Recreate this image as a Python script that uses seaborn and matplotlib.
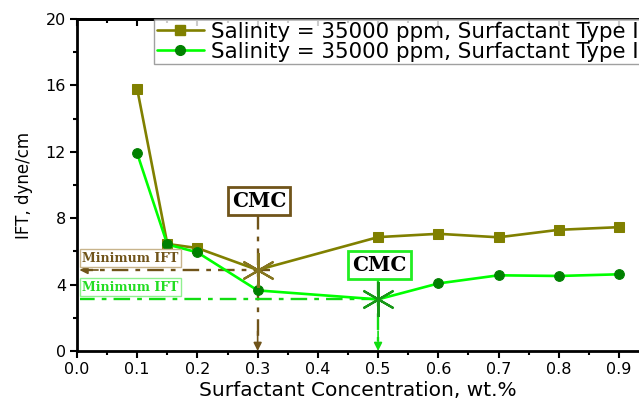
import numpy as np
import pandas as pd
import matplotlib
matplotlib.use("Agg")
import matplotlib.pyplot as plt
import seaborn as sns
from matplotlib.lines import Line2D
from matplotlib.ticker import MultipleLocator

# ---------------- data ----------------
conc = [0.1, 0.15, 0.2, 0.3, 0.5, 0.6, 0.7, 0.8, 0.9]
ift_type1 = [15.78, 6.45, 6.2, 4.88, 6.86, 7.06, 6.85, 7.3, 7.46]
ift_type2 = [11.9, 6.42, 5.94, 3.65, 3.11, 4.07, 4.56, 4.52, 4.62]
labels = ["Salinity = 35000 ppm, Surfactant Type I",
          "Salinity = 35000 ppm, Surfactant Type II"]
cmc1_x, cmc1_y = 0.3, 4.88
cmc2_x, cmc2_y = 0.5, 3.11
xticks = [0.0, 0.1, 0.2, 0.3, 0.4, 0.5, 0.6, 0.7, 0.8, 0.9]
yticks = [0, 4, 8, 12, 16, 20]

olive = "#808000"
lime = "#00ff00"
dgreen = "#008000"
brown = "#70541a"
gline = "#11dd11"

sns.set_theme(style="white")
plt.rcParams["font.family"] = ["DejaVu Sans"]

fig = plt.figure(figsize=(6.39, 4.01), dpi=100)
ax = fig.add_axes([77/639, 1-351/401, 1-77/639, (351-19)/401])

df1 = pd.DataFrame({"x": conc, "y": ift_type1})
df2 = pd.DataFrame({"x": conc, "y": ift_type2})
i1 = conc.index(cmc1_x)
i2 = conc.index(cmc2_x)
me1 = [i for i in range(len(conc)) if i != i1]
me2 = [i for i in range(len(conc)) if i != i2]

sns.lineplot(data=df1, x="x", y="y", ax=ax, color=olive, lw=1.9, marker="s",
             markersize=7, markerfacecolor=olive, markeredgecolor=olive,
             markevery=me1, zorder=3)
sns.lineplot(data=df2, x="x", y="y", ax=ax, color=lime, lw=1.9, marker="o",
             markersize=7, markerfacecolor=dgreen, markeredgecolor=dgreen,
             markevery=me2, zorder=3)

# CMC asterisks
ax.plot([cmc1_x], [cmc1_y], marker=(6, 2, 0), markersize=25, color="#857520",
        mew=1.6, ls="none", zorder=4)
ax.plot([cmc2_x], [cmc2_y], marker=(6, 2, 0), markersize=25, color="#189818",
        mew=1.6, ls="none", zorder=4)

# guide lines (dash-dot) with arrowheads
dd = (0, (7, 3, 2, 3))
ax.plot([0.32, 0.012], [cmc1_y, cmc1_y], color=brown, lw=1.7, ls=dd, zorder=2)
ax.plot([cmc1_x, cmc1_x], [8.3, 0.6], color=brown, lw=1.7, ls=dd, zorder=2)
ax.plot([cmc2_x, 0.005], [cmc2_y, cmc2_y], color=gline, lw=1.7, ls=dd, zorder=2)
ax.plot([cmc2_x, cmc2_x], [4.4, 0.6], color=gline, lw=1.7, ls=dd, zorder=2)
ah = dict(arrowstyle="-|>", mutation_scale=12, lw=1.2, shrinkA=0, shrinkB=0)
ax.annotate("", xy=(0.004, cmc1_y), xytext=(0.035, cmc1_y),
            arrowprops=dict(ah, color=brown))
ax.annotate("", xy=(cmc1_x, 0.0), xytext=(cmc1_x, 1.2),
            arrowprops=dict(ah, color=brown))
ax.annotate("", xy=(-0.001, cmc2_y), xytext=(0.03, cmc2_y),
            arrowprops=dict(ah, color=gline))
ax.annotate("", xy=(cmc2_x, 0.0), xytext=(cmc2_x, 1.2),
            arrowprops=dict(ah, color=gline))

# boxed annotations
ax.text(0.302, 9.05, "CMC", family="DejaVu Serif", weight="bold", fontsize=14.5,
        color="black", ha="center", va="center", zorder=5,
        bbox=dict(boxstyle="square,pad=0.2", fc="white", ec=brown, lw=2))
ax.text(0.502, 5.18, "CMC", family="DejaVu Serif", weight="bold", fontsize=14.5,
        color="black", ha="center", va="center", zorder=5,
        bbox=dict(boxstyle="square,pad=0.2", fc="white", ec="#22ee22", lw=2))
ax.text(0.0885, 5.6, "Minimum IFT", family="DejaVu Serif", weight="bold",
        fontsize=9, color=brown, ha="center", va="center", zorder=5,
        bbox=dict(boxstyle="square,pad=0.2", fc="white", ec="#c8b48c", lw=1))
ax.text(0.0885, 3.85, "Minimum IFT", family="DejaVu Serif", weight="bold",
        fontsize=9, color="#22dd22", ha="center", va="center", zorder=5,
        bbox=dict(boxstyle="square,pad=0.2", fc="white", ec="#90f090", lw=1))

# axes styling
ax.set_xlim(0, 0.9333)
ax.set_ylim(0, 20)
ax.set_xticks(xticks)
ax.set_xticklabels([f"{t:.1f}" for t in xticks])
ax.set_yticks(yticks)
ax.xaxis.set_minor_locator(MultipleLocator(0.05))
ax.yaxis.set_minor_locator(MultipleLocator(2))
ax.tick_params(axis="both", which="major", labelsize=11.5, length=5, width=1.5,
               color="black", labelcolor="black", pad=3)
ax.tick_params(axis="both", which="minor", length=3, width=1.5, color="black")
ax.tick_params(axis="x", which="both", bottom=True, top=False, direction="out")
ax.tick_params(axis="y", which="both", left=True, right=False, direction="out")

# top axis with inward ticks, no labels
top = ax.secondary_xaxis("top")
top.set_xticks(xticks)
top.xaxis.set_minor_locator(MultipleLocator(0.05))
top.tick_params(which="major", direction="in", length=5, width=1.5,
                labeltop=False, color="black")
top.tick_params(which="minor", direction="in", length=3, width=1.5, color="black")
top.spines["top"].set_linewidth(2)
top.spines["top"].set_color("black")

ax.set_xlabel("Surfactant Concentration, wt.%", fontsize=14.5, color="black", labelpad=3)
ax.set_ylabel("IFT, dyne/cm", fontsize=12, color="black", labelpad=9)
for s in ["left", "bottom", "top"]:
    ax.spines[s].set_visible(True)
    ax.spines[s].set_color("black")
    ax.spines[s].set_linewidth(2)
ax.spines["right"].set_visible(False)
ax.grid(False)

handles = [Line2D([], [], color=olive, lw=1.9, marker="s", markersize=7,
                  markerfacecolor=olive, markeredgecolor=olive),
           Line2D([], [], color=lime, lw=1.9, marker="o", markersize=7,
                  markerfacecolor=dgreen, markeredgecolor=dgreen)]
leg = ax.legend(handles, labels, loc="upper left", bbox_to_anchor=(0.137, 1.0),
                fontsize=15.4, frameon=True, fancybox=False, borderaxespad=0,
                labelspacing=0.0, borderpad=0.12, handlelength=2.2,
                handletextpad=0.35)
leg.get_frame().set_edgecolor("#888888")
leg.get_frame().set_linewidth(1)
leg.set_zorder(6)
for t in leg.get_texts():
    t.set_color("black")

fig.savefig("out.png", dpi=100)
